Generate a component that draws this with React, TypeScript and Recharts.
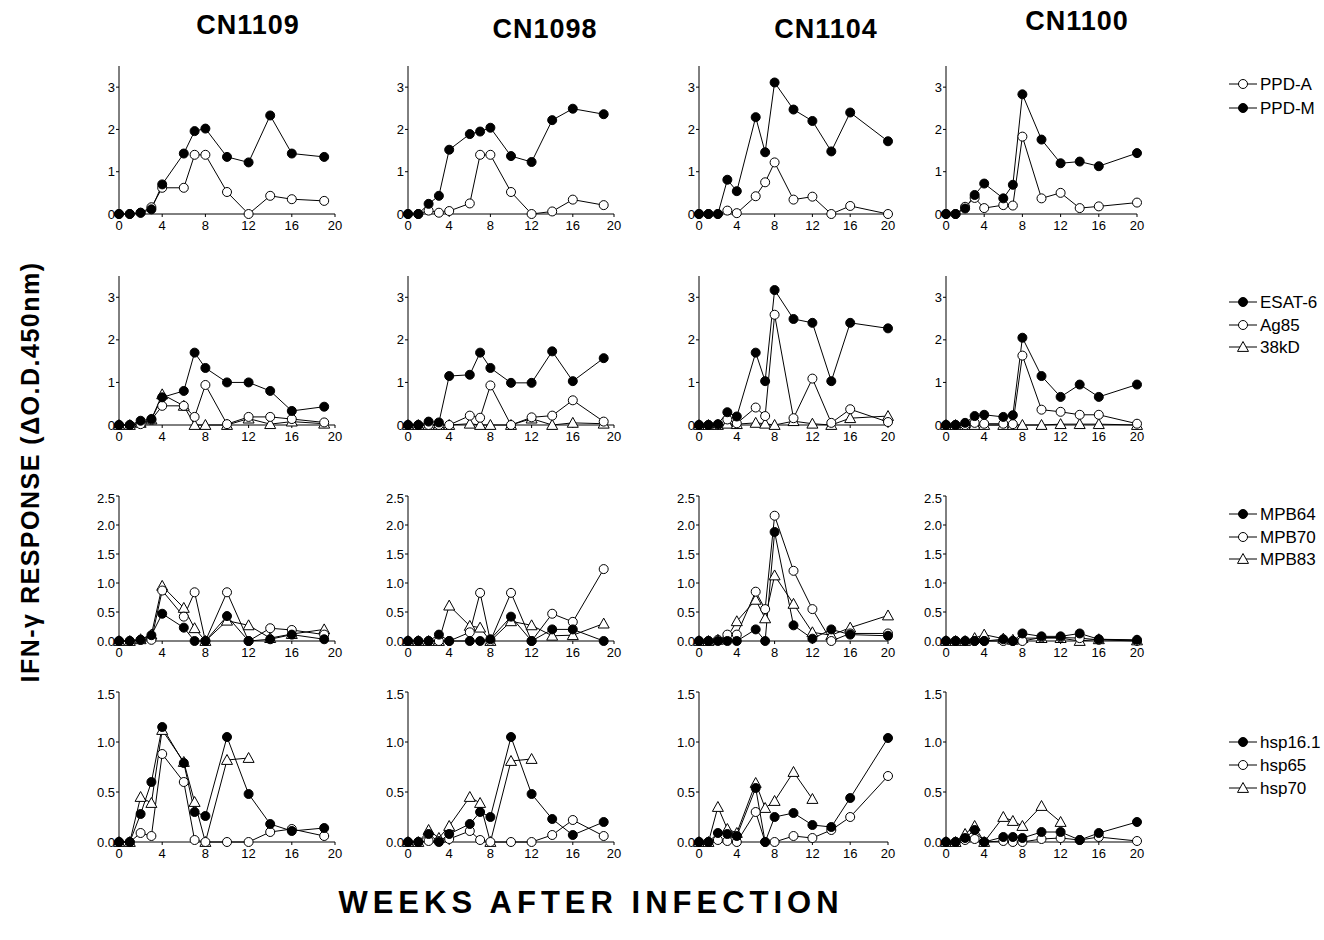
import React from "react";
import { LineChart, Line, XAxis, YAxis } from "recharts";

// weeks sampled (CN1109 / CN1098 stop at 19, CN1104 / CN1100 at 20)
const WEEKS_19 = [0, 1, 2, 3, 4, 6, 7, 8, 10, 12, 14, 16, 19];
const WEEKS_20 = [0, 1, 2, 3, 4, 6, 7, 8, 10, 12, 14, 16, 20];

const ANIMALS = ["CN1109", "CN1098", "CN1104", "CN1100"];
const X_TICKS = [0, 4, 8, 12, 16, 20];

// row 1: PPD
const ppdA_1109 = [0, 0, 0.03, 0.16, 0.62, 0.62, 1.4, 1.4, 0.52, 0, 0.43, 0.35, 0.31];
const ppdM_1109 = [0, 0, 0.03, 0.11, 0.7, 1.43, 1.96, 2.02, 1.35, 1.22, 2.33, 1.43, 1.35];
const ppdA_1098 = [0, 0, 0.08, 0.03, 0.07, 0.25, 1.4, 1.4, 0.52, 0, 0.06, 0.34, 0.21];
const ppdM_1098 = [0, 0, 0.24, 0.43, 1.52, 1.89, 1.95, 2.04, 1.37, 1.23, 2.22, 2.49, 2.36];
const ppdA_1104 = [0, 0, 0, 0.08, 0.02, 0.42, 0.75, 1.22, 0.34, 0.41, 0, 0.19, 0];
const ppdM_1104 = [0, 0, 0, 0.81, 0.54, 2.29, 1.46, 3.11, 2.47, 2.2, 1.48, 2.4, 1.72];
const ppdA_1100 = [0, 0, 0.17, 0.38, 0.14, 0.21, 0.2, 1.83, 0.37, 0.5, 0.14, 0.18, 0.27];
const ppdM_1100 = [0, 0, 0.13, 0.45, 0.72, 0.37, 0.69, 2.83, 1.76, 1.2, 1.24, 1.13, 1.44];

// row 2: ESAT-6 / Ag85 / 38kD
const esat_1109 = [0, 0, 0.1, 0.14, 0.65, 0.8, 1.7, 1.34, 1.0, 1.0, 0.8, 0.33, 0.43];
const ag85_1109 = [0, 0, 0.02, 0.12, 0.45, 0.45, 0.19, 0.94, 0.02, 0.19, 0.19, 0.14, 0.06];
const kd38_1109 = [0, 0, 0.05, 0.13, 0.72, 0.45, 0, 0, 0, 0.15, 0.02, 0.08, 0.03];
const esat_1098 = [0, 0, 0.08, 0.06, 1.15, 1.18, 1.7, 1.34, 0.99, 0.99, 1.73, 1.03, 1.57];
const ag85_1098 = [0, 0, 0, 0, 0, 0.22, 0.17, 0.93, 0, 0.18, 0.22, 0.58, 0.08];
const kd38_1098 = [0, 0, 0, 0, 0, 0.03, 0, 0, 0, 0.15, 0, 0.05, 0.03];
const esat_1104 = [0, 0, 0.02, 0.3, 0.2, 1.7, 1.03, 3.17, 2.49, 2.4, 1.03, 2.4, 2.27];
const ag85_1104 = [0, 0, 0, 0.13, 0.04, 0.41, 0.21, 2.59, 0.16, 1.09, 0.05, 0.37, 0.07];
const kd38_1104 = [0, 0, 0, 0.03, 0.02, 0.05, 0.03, 0, 0.09, 0.03, 0, 0.16, 0.21];
const esat_1100 = [0, 0, 0.05, 0.21, 0.24, 0.19, 0.23, 2.05, 1.15, 0.66, 0.95, 0.66, 0.95];
const ag85_1100 = [0, 0, 0, 0.05, 0.03, 0.03, 0.02, 1.63, 0.36, 0.31, 0.24, 0.24, 0.03];
const kd38_1100 = [0, 0, 0, 0, 0, 0, 0, 0, 0, 0.02, 0.02, 0.02, 0];

// row 3: MPB64 / MPB70 / MPB83
const mpb64_1109 = [0, 0, 0.02, 0.1, 0.47, 0.23, 0, 0, 0.43, 0, 0.03, 0.11, 0.03];
const mpb70_1109 = [0, 0, 0.02, 0.02, 0.87, 0.42, 0.84, 0, 0.84, 0, 0.22, 0.19, 0.11];
const mpb83_1109 = [0, 0, 0.03, 0.11, 0.95, 0.57, 0.22, 0, 0.35, 0.27, 0.05, 0.12, 0.2];
const mpb64_1098 = [0, 0, 0, 0.11, 0, 0, 0, 0.03, 0.42, 0, 0.2, 0.2, 0];
const mpb70_1098 = [0, 0, 0, 0, 0, 0.15, 0.83, 0, 0.83, 0, 0.47, 0.33, 1.24];
const mpb83_1098 = [0, 0, 0, 0, 0.61, 0.26, 0.23, 0, 0.34, 0.27, 0.09, 0.1, 0.3];
const mpb64_1104 = [0, 0, 0, 0, 0, 0.2, 0, 1.88, 0.27, 0.04, 0.2, 0.11, 0.09];
const mpb70_1104 = [0, 0, 0.02, 0.11, 0.11, 0.85, 0.55, 2.16, 1.21, 0.55, 0, 0.13, 0.13];
const mpb83_1104 = [0, 0, 0.02, 0.07, 0.34, 0.71, 0.39, 1.13, 0.64, 0.15, 0.1, 0.23, 0.44];
const mpb64_1100 = [0, 0, 0, 0, 0, 0.03, 0, 0.13, 0.08, 0.08, 0.13, 0.03, 0.02];
const mpb70_1100 = [0, 0, 0, 0, 0, 0, 0, 0, 0.06, 0.06, 0.05, 0.02, 0];
const mpb83_1100 = [0, 0, 0, 0.05, 0.11, 0.04, 0.02, 0.05, 0.05, 0.05, 0, 0.03, 0.01];

// row 4: hsp16.1 / hsp65 / hsp70 (hsp70 stops at week 12)
const hsp16_1109 = [0, 0, 0.28, 0.6, 1.15, 0.79, 0.3, 0.26, 1.05, 0.48, 0.18, 0.11, 0.14];
const hsp65_1109 = [0, 0, 0.09, 0.06, 0.88, 0.6, 0.02, 0, 0, 0, 0.1, 0.13, 0.06];
const hsp70_1109 = [0, 0, 0.45, 0.39, 1.12, 0.8, 0.4, 0, 0.82, 0.84, null, null, null];
const hsp16_1098 = [0, 0, 0.08, 0, 0.08, 0.18, 0.3, 0.25, 1.05, 0.48, 0.23, 0.07, 0.2];
const hsp65_1098 = [0, 0, 0.01, 0.01, 0.03, 0.11, 0.02, 0, 0, 0, 0.07, 0.22, 0.06];
const hsp70_1098 = [0, 0, 0.12, 0.04, 0.16, 0.45, 0.39, 0, 0.81, 0.83, null, null, null];
const hsp16_1104 = [0, 0, 0.09, 0.08, 0.06, 0.54, 0, 0.25, 0.29, 0.17, 0.15, 0.44, 1.04];
const hsp65_1104 = [0, 0, 0.02, 0.01, 0, 0.3, 0, 0, 0.06, 0.04, 0.12, 0.25, 0.66];
const hsp70_1104 = [0, 0, 0.35, 0.13, 0.09, 0.59, 0.34, 0.41, 0.7, 0.43, null, null, null];
const hsp16_1100 = [0, 0, 0.04, 0.12, 0, 0.05, 0.05, 0.04, 0.1, 0.1, 0.02, 0.09, 0.2];
const hsp65_1100 = [0, 0, 0.02, 0.03, 0, 0.01, 0, 0, 0.03, 0.04, 0.02, 0.05, 0.01];
const hsp70_1100 = [0, 0, 0.08, 0.16, 0, 0.25, 0.21, 0.16, 0.36, 0.2, null, null, null];

type Shape = "filled" | "open" | "triangle";
type Series = { name: string; shape: Shape; values: (number | null)[][] };

const ROWS: { yMax: number; yTicks: number[]; decimals: number; series: Series[] }[] = [
  {
    yMax: 3.5,
    yTicks: [0, 1, 2, 3],
    decimals: 0,
    series: [
      { name: "PPD-A", shape: "open", values: [ppdA_1109, ppdA_1098, ppdA_1104, ppdA_1100] },
      { name: "PPD-M", shape: "filled", values: [ppdM_1109, ppdM_1098, ppdM_1104, ppdM_1100] },
    ],
  },
  {
    yMax: 3.5,
    yTicks: [0, 1, 2, 3],
    decimals: 0,
    series: [
      { name: "ESAT-6", shape: "filled", values: [esat_1109, esat_1098, esat_1104, esat_1100] },
      { name: "Ag85", shape: "open", values: [ag85_1109, ag85_1098, ag85_1104, ag85_1100] },
      { name: "38kD", shape: "triangle", values: [kd38_1109, kd38_1098, kd38_1104, kd38_1100] },
    ],
  },
  {
    yMax: 2.5,
    yTicks: [0, 0.5, 1, 1.5, 2, 2.5],
    decimals: 1,
    series: [
      { name: "MPB64", shape: "filled", values: [mpb64_1109, mpb64_1098, mpb64_1104, mpb64_1100] },
      { name: "MPB70", shape: "open", values: [mpb70_1109, mpb70_1098, mpb70_1104, mpb70_1100] },
      { name: "MPB83", shape: "triangle", values: [mpb83_1109, mpb83_1098, mpb83_1104, mpb83_1100] },
    ],
  },
  {
    yMax: 1.5,
    yTicks: [0, 0.5, 1, 1.5],
    decimals: 1,
    series: [
      { name: "hsp16.1", shape: "filled", values: [hsp16_1109, hsp16_1098, hsp16_1104, hsp16_1100] },
      { name: "hsp65", shape: "open", values: [hsp65_1109, hsp65_1098, hsp65_1104, hsp65_1100] },
      { name: "hsp70", shape: "triangle", values: [hsp70_1109, hsp70_1098, hsp70_1104, hsp70_1100] },
    ],
  },
];

// layout (page pixels): x of week 0 / week 20 per column, y of top / zero per row
const COL_X = [[119, 335], [408, 614], [699, 888], [946, 1137]];
const ROW_Y = [[66, 214], [276, 425], [496, 641], [692, 842]];
const TITLE_POS = [[248, 34], [545, 38], [826, 38], [1077, 30]];
const LEGEND_Y = [[84, 108], [302, 325, 347], [514, 537, 559], [742, 765, 788]];

const FONT = "'Liberation Sans', Arial, Helvetica, sans-serif";
const Y_AXIS_W = 30;
const X_AXIS_H = 26;
const M_TOP = 6;
const M_RIGHT = 12;

function Marker({ cx, cy, shape }: { cx: number; cy: number; shape: Shape }) {
  if (shape === "triangle") {
    const s = 5.5;
    return (
      <path
        d={`M${cx},${cy - s} L${cx + s},${cy + s * 0.8} L${cx - s},${cy + s * 0.8} Z`}
        fill="#fff"
        stroke="#000"
        strokeWidth={1}
      />
    );
  }
  return (
    <circle
      cx={cx}
      cy={cy}
      r={4.5}
      fill={shape === "filled" ? "#000" : "#fff"}
      stroke="#000"
      strokeWidth={1}
    />
  );
}

function renderDot(shape: Shape) {
  return (p: any) => {
    const key = `${p.dataKey}-${p.index}`;
    if (p.value == null || p.cy == null || isNaN(p.cy)) return <g key={key} />;
    return (
      <g key={key}>
        <Marker cx={p.cx} cy={p.cy} shape={shape} />
      </g>
    );
  };
}

function Panel({ row, col }: { row: number; col: number }) {
  const cfg = ROWS[row];
  const weeks = col < 2 ? WEEKS_19 : WEEKS_20;
  const data = weeks.map((w, i) => {
    const d: any = { week: w };
    cfg.series.forEach((s, k) => {
      d[`s${k}`] = s.values[col][i];
    });
    return d;
  });
  const [x0, x20] = COL_X[col];
  const [yTop, yZero] = ROW_Y[row];
  const width = Y_AXIS_W + (x20 - x0) + M_RIGHT;
  const height = M_TOP + (yZero - yTop) + X_AXIS_H;
  // triangles first, then open circles, filled circles on top
  const rank: Record<Shape, number> = { triangle: 0, open: 1, filled: 2 };
  const order = cfg.series
    .map((s, k) => ({ s, k }))
    .sort((a, b) => rank[a.s.shape] - rank[b.s.shape]);
  return (
    <div style={{ position: "absolute", left: x0 - Y_AXIS_W, top: yTop - M_TOP }}>
      <LineChart
        width={width}
        height={height}
        data={data}
        margin={{ top: M_TOP, right: M_RIGHT, bottom: 0, left: 0 }}
      >
        <XAxis
          dataKey="week"
          type="number"
          domain={[0, 20]}
          ticks={X_TICKS}
          height={X_AXIS_H}
          tickSize={3}
          tickMargin={4}
          axisLine={{ stroke: "#000" }}
          tickLine={{ stroke: "#000" }}
          tick={{ fill: "#000", fontSize: 13, fontFamily: FONT }}
        />
        <YAxis
          type="number"
          domain={[0, cfg.yMax]}
          ticks={cfg.yTicks}
          width={Y_AXIS_W}
          tickSize={3}
          tickMargin={1}
          axisLine={{ stroke: "#000" }}
          tickLine={{ stroke: "#000" }}
          tickFormatter={(v: number) => v.toFixed(cfg.decimals)}
          tick={{ fill: "#000", fontSize: 13, fontFamily: FONT }}
        />
        {order.map(({ s, k }) => (
          <Line
            key={s.name}
            dataKey={`s${k}`}
            type="linear"
            stroke="#000"
            strokeWidth={1}
            dot={renderDot(s.shape)}
            activeDot={false}
            connectNulls={false}
            isAnimationActive={false}
          />
        ))}
      </LineChart>
    </div>
  );
}

function LegendItem({ y, name, shape }: { y: number; name: string; shape: Shape }) {
  return (
    <g>
      <line x1={1229} x2={1257} y1={y} y2={y} stroke="#000" strokeWidth={1} />
      <Marker cx={1243} cy={y} shape={shape} />
      <text x={1260} y={y + 6} fontSize={17} fontFamily={FONT} fill="#000">
        {name}
      </text>
    </g>
  );
}

export default function App() {
  return (
    <div
      style={{
        position: "absolute",
        left: 0,
        top: 0,
        width: 1324,
        height: 940,
        background: "#fff",
        overflow: "hidden",
      }}
    >
      {ROWS.map((_, r) => ANIMALS.map((_, c) => <Panel key={`${r}-${c}`} row={r} col={c} />))}
      <svg
        width={1324}
        height={940}
        style={{ position: "absolute", left: 0, top: 0, pointerEvents: "none" }}
      >
        {ANIMALS.map((a, i) => (
          <text
            key={a}
            x={TITLE_POS[i][0]}
            y={TITLE_POS[i][1]}
            textAnchor="middle"
            fontSize={27}
            fontWeight="bold"
            fontFamily={FONT}
            letterSpacing={1}
            fill="#000"
          >
            {a}
          </text>
        ))}
        {ROWS.map((row, r) =>
          row.series.map((s, k) => (
            <LegendItem key={s.name} y={LEGEND_Y[r][k]} name={s.name} shape={s.shape} />
          ))
        )}
        <text
          transform="translate(39,472) rotate(-90)"
          textAnchor="middle"
          fontSize={25}
          fontWeight="bold"
          fontFamily={FONT}
          letterSpacing={1.5}
          fill="#000"
        >
          IFN-γ RESPONSE (ΔO.D.450nm)
        </text>
        <text
          x={591}
          y={913}
          textAnchor="middle"
          fontSize={31}
          fontWeight="bold"
          fontFamily={FONT}
          letterSpacing={5}
          fill="#000"
        >
          WEEKS AFTER INFECTION
        </text>
      </svg>
    </div>
  );
}
